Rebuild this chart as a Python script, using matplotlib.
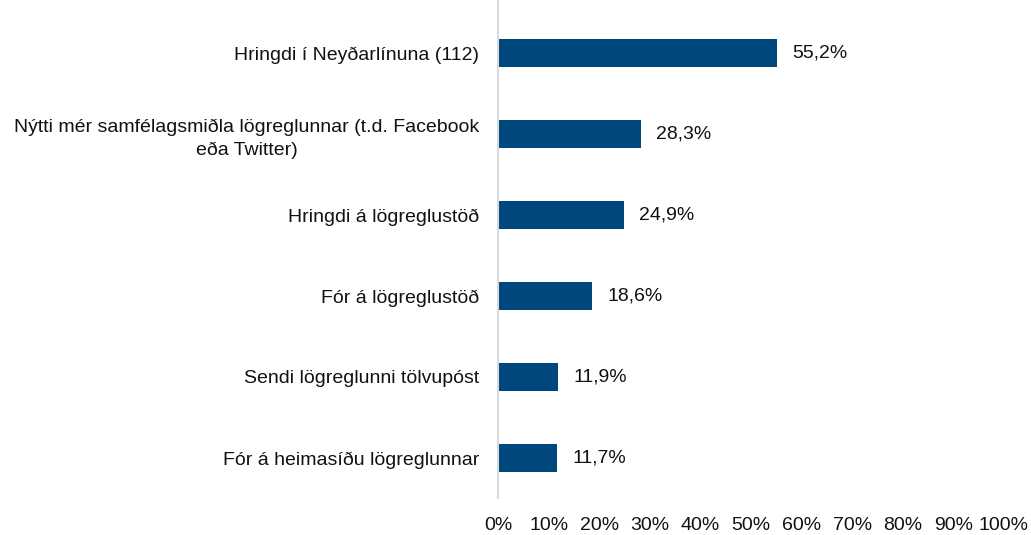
import matplotlib
matplotlib.use("Agg")
import matplotlib.pyplot as plt

plt.rcParams['font.family'] = ['Liberation Sans Narrow', 'Liberation Sans', 'DejaVu Sans']

categories = [
    "Hringdi í Neyðarlínuna (112)",
    "Nýtti mér samfélagsmiðla lögreglunnar (t.d. Facebook\neða Twitter)",
    "Hringdi á lögreglustöð",
    "Fór á lögreglustöð",
    "Sendi lögreglunni tölvupóst",
    "Fór á heimasíðu lögreglunnar",
]
values = [55.2, 28.3, 24.9, 18.6, 11.9, 11.7]
tick_values = list(range(0, 101, 10))
tick_labels = [f"{t}%" for t in tick_values]

bar_color = "#00477e"
text_color = "#111111"

fig = plt.figure(figsize=(10.31, 5.35), dpi=100)
# axes box in pixels: left 498, right 1004, top 0, bottom 498
ax = fig.add_axes([498 / 1031, 37 / 535, 506 / 1031, 498 / 535])

pos = list(range(len(categories)))
ax.barh(pos, values, height=0.35, color=bar_color, zorder=2)
for p, v in zip(pos, values):
    ax.text(v + 3.0, p, f"{v:.1f}%".replace(".", ","), va="center", ha="left",
            fontsize=14, color=text_color)

ax.set_xlim(0, 100)
ax.set_ylim(5.494, -0.654)
ax.set_yticks(pos)
ax.set_yticklabels(categories, fontsize=14, color=text_color,
                   multialignment="center", linespacing=1.4)
ax.set_xticks(tick_values)
ax.set_xticklabels(tick_labels, fontsize=14, color=text_color)
ax.tick_params(axis="y", length=0, pad=13.5)
ax.tick_params(axis="x", length=0, pad=14)

for side in ["top", "right", "bottom"]:
    ax.spines[side].set_visible(False)
ax.spines["left"].set_color("#d9d9d9")
ax.spines["left"].set_linewidth(1.5)

fig.savefig("out.png", dpi=100)
